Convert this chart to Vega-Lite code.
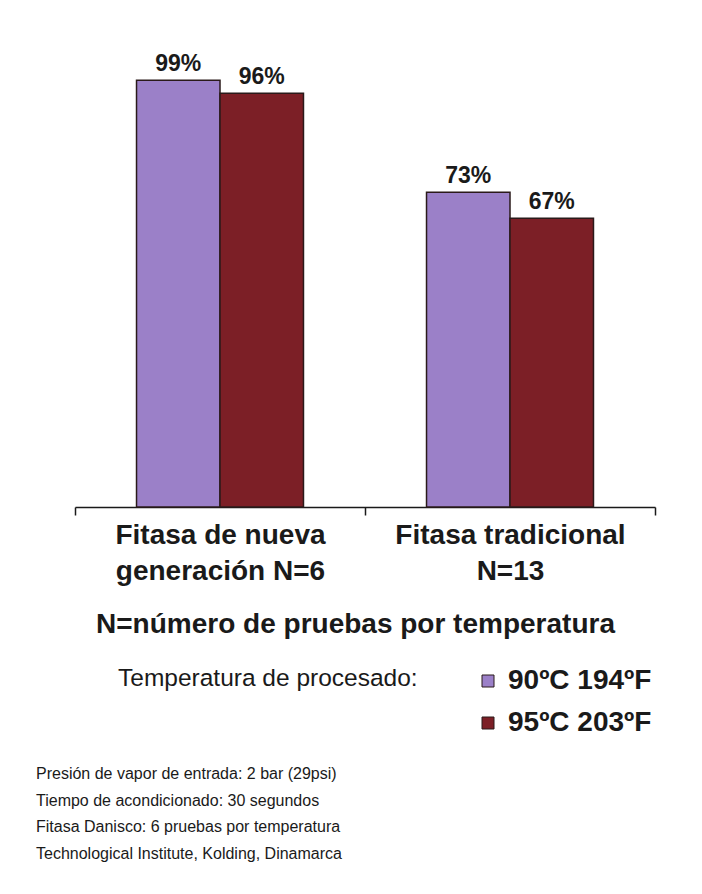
{
  "$schema": "https://vega.github.io/schema/vega-lite/v6.json",
  "width": 580,
  "height": 431,
  "autosize": "none",
  "padding": {"left": 75, "top": 76, "right": 47, "bottom": 387},
  "background": "white",
  "config": {
    "view": {"stroke": null},
    "font": "Liberation Sans"
  },
  "title": {
    "text": [
      "Presión de vapor de entrada: 2 bar (29psi)",
      "Tiempo de acondicionado: 30 segundos",
      "Fitasa Danisco: 6 pruebas por temperatura",
      "Technological Institute, Kolding, Dinamarca"
    ],
    "orient": "bottom",
    "anchor": "start",
    "frame": "group",
    "dx": -39,
    "offset": 29,
    "font": "Liberation Sans",
    "fontSize": 16,
    "fontWeight": "normal",
    "lineHeight": 26.5,
    "color": "#1a1a1a",
    "baseline": "top",
    "limit": 0
  },
  "data": {
    "values": [
      {"grupo": "Fitasa de nueva|generación N=6", "temp": "90ºC 194ºF", "valor": 99, "etiqueta": "99%"},
      {"grupo": "Fitasa de nueva|generación N=6", "temp": "95ºC 203ºF", "valor": 96, "etiqueta": "96%"},
      {"grupo": "Fitasa tradicional|N=13", "temp": "90ºC 194ºF", "valor": 73, "etiqueta": "73%"},
      {"grupo": "Fitasa tradicional|N=13", "temp": "95ºC 203ºF", "valor": 67, "etiqueta": "67%"}
    ]
  },
  "encoding": {
    "x": {
      "field": "grupo",
      "type": "nominal",
      "sort": null,
      "scale": {"paddingInner": 0, "paddingOuter": 0},
      "axis": {
        "title": "N=número de pruebas por temperatura",
        "labelExpr": "split(datum.label, '|')",
        "labelAngle": 0,
        "labelLimit": 0,
        "labelFont": "Liberation Sans",
        "labelFontSize": 28,
        "labelFontWeight": "bold",
        "labelColor": "#1a1a1a",
        "labelLineHeight": 36,
        "labelPadding": 6,
        "domainColor": "#1a1a1a",
        "domainWidth": 1.5,
        "tickColor": "#1a1a1a",
        "tickWidth": 1.5,
        "tickSize": 8,
        "tickBand": "extent",
        "titleFont": "Liberation Sans",
        "titleFontSize": 28,
        "titleFontWeight": "bold",
        "titleColor": "#1a1a1a",
        "titleLimit": 0,
        "titleX": 280,
        "titleY": 125,
        "titleBaseline": "alphabetic"
      }
    },
    "xOffset": {
      "field": "temp",
      "type": "nominal",
      "scale": {"paddingInner": 0, "paddingOuter": 0.737}
    },
    "y": {
      "field": "valor",
      "type": "quantitative",
      "scale": {"domain": [0, 100], "nice": false},
      "axis": null
    }
  },
  "layer": [
    {
      "mark": {"type": "bar", "stroke": "#2a1a1a", "strokeWidth": 1.5},
      "encoding": {
        "color": {
          "field": "temp",
          "type": "nominal",
          "scale": {"domain": ["90ºC 194ºF", "95ºC 203ºF"], "range": ["#9b80c8", "#7c1f26"]},
          "legend": {
            "title": "Temperatura de procesado:",
            "orient": "none",
            "legendX": 43,
            "legendY": 591,
            "titleOrient": "left",
            "titleAnchor": "start",
            "titleBaseline": "top",
            "titlePadding": 56,
            "titleLimit": 0,
            "titleFont": "Liberation Sans",
            "titleFontSize": 24.5,
            "titleFontWeight": "normal",
            "titleColor": "#1a1a1a",
            "labelFont": "Liberation Sans",
            "labelFontSize": 28,
            "labelFontWeight": "bold",
            "labelColor": "#1a1a1a",
            "labelLimit": 0,
            "labelOffset": 6,
            "symbolType": "square",
            "symbolSize": 144,
            "symbolStrokeColor": "#2a1a1a",
            "symbolStrokeWidth": 1,
            "symbolOpacity": 1,
            "rowPadding": 14
          }
        }
      }
    },
    {
      "mark": {"type": "text", "dy": -9, "baseline": "alphabetic", "fontSize": 23, "fontWeight": "bold", "color": "#1a1a1a", "font": "Liberation Sans"},
      "encoding": {
        "text": {"field": "etiqueta"}
      }
    }
  ]
}
